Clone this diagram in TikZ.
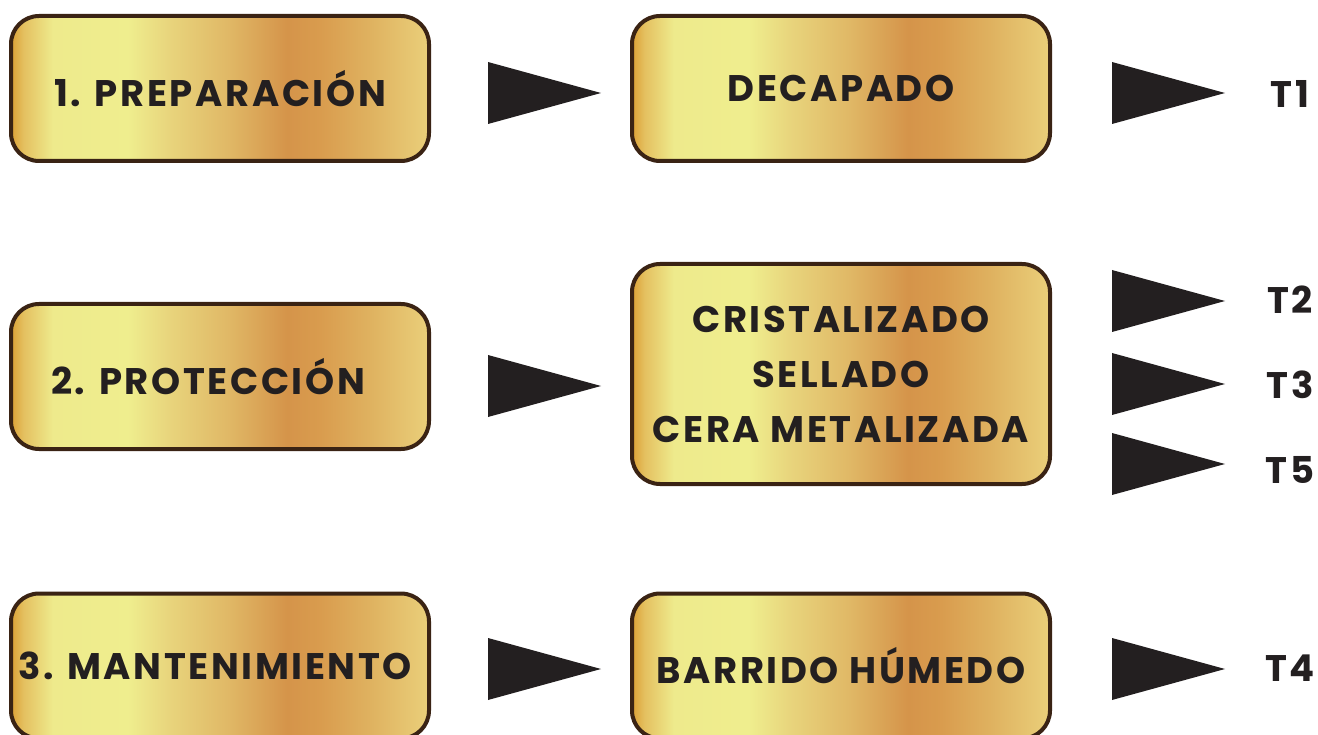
\documentclass[tikz,border=0pt]{standalone}
\usepackage{fontspec}
\setmainfont{Poppins}[LetterSpace=7]
\definecolor{boxedge}{HTML}{3A2314}
\definecolor{txt}{HTML}{231F20}
\definecolor{g0}{HTML}{DCA035}
\definecolor{g1}{HTML}{E4C060}
\definecolor{g2}{HTML}{EEEA8C}
\definecolor{g3}{HTML}{EFEE8E}
\definecolor{g4}{HTML}{E8D47C}
\definecolor{g5}{HTML}{E0B866}
\definecolor{g6}{HTML}{D5944A}
\definecolor{g7}{HTML}{D99C4E}
\definecolor{g8}{HTML}{DFB260}
\definecolor{g9}{HTML}{EACF7A}
\pgfdeclarehorizontalshading{gold}{100bp}{color(0bp)=(g0); color(25bp)=(g0); color(26.5bp)=(g1); color(30bp)=(g2); color(39bp)=(g3); color(44bp)=(g4); color(51bp)=(g5); color(58bp)=(g6); color(62bp)=(g7); color(68bp)=(g8); color(75bp)=(g9); color(100bp)=(g9)}
\tikzset{
  goldbox/.style={rounded corners=28pt, draw=boxedge, line width=4pt, shade, shading=gold,
    minimum width=418pt, minimum height=145pt, inner sep=0pt, text=txt, align=center,
    font=\fontsize{37}{55}\selectfont\bfseries},
  pointer/.style={fill=txt, draw=none},
  tlabel/.style={text=txt, font=\fontsize{37}{40}\selectfont\bfseries, inner sep=0pt}
}
\begin{document}
\begin{tikzpicture}[x=1pt,y=-1pt]
\useasboundingbox (0,0) rectangle (1318,735);
\node[goldbox] (prep) at (220,88.5) {1. PREPARACIÓN};
\node[goldbox] (prot) at (220,376.5) {\hspace*{-24pt}2. PROTECCIÓN};
\node[goldbox] (mant) at (220,666) {\hspace*{-10pt}3. MANTENIMIENTO};
\node[goldbox] (deca) at (841,88.5) {DECAPADO};
\node[goldbox, minimum height=220pt] (cris) at (841,374) {CRISTALIZADO\\SELLADO\\CERA METALIZADA};
\node[goldbox] (barr) at (841,666) {BARRIDO HÚMEDO};
% pointers
\foreach \x/\y in {488/93, 488/386, 488/669, 1112/93, 1112/301, 1112/384, 1112/464, 1112/669}{
  \fill[pointer] (\x,\y-31) -- (\x+113,\y) -- (\x,\y+31) -- cycle;
}
\node[tlabel] (t1) at (1290,94) {T1};
\node[tlabel] (t2) at (1290,300) {T2};
\node[tlabel] (t3) at (1290,385) {T3};
\node[tlabel] (t5) at (1290,470) {T5};
\node[tlabel] (t4) at (1290,668) {T4};
\end{tikzpicture}
\end{document}
